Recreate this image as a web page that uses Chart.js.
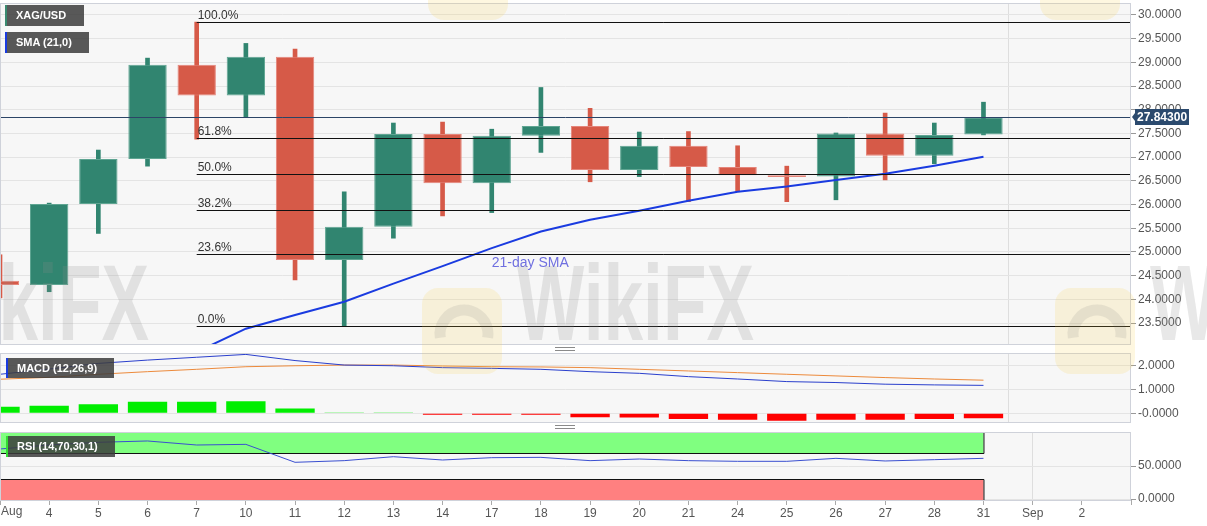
<!DOCTYPE html>
<html>
<head>
<meta charset="utf-8">
<title>XAG/USD</title>
<script src="https://cdn.jsdelivr.net/npm/chart.js@4.4.1/dist/chart.umd.min.js"></script>
<style>
  body { margin: 0; background: #fff; font-family: "Liberation Sans", Arial, sans-serif; }
  #wrap { position: relative; width: 1207px; height: 526px; overflow: hidden; }
  .pane { position: absolute; left: 0; width: 1207px; }
  .tag { position: absolute; height: 21px; line-height: 21px; padding-left: 9px; box-sizing: border-box;
         color: #fff; font-weight: bold; font-size: 11px; background: rgba(60,60,60,0.85);
         border-left: 2px solid #3a8a70; white-space: nowrap; }
  .grip { position: absolute; left: 555px; width: 20px; height: 2px; border-top: 1px solid #8a8a8a; border-bottom: 1px solid #8a8a8a; }
  #marks { position: absolute; left: 0; top: 0; pointer-events: none; }
</style>
</head>
<body>
<div id="wrap">
  <div class="pane" style="top:0;height:345px"><canvas id="mainChart"></canvas></div>
  <div class="pane" style="top:350px;height:75px"><canvas id="macdChart"></canvas></div>
  <div class="pane" style="top:428px;height:98px"><canvas id="rsiChart"></canvas></div>
  <canvas id="marks" width="1207" height="526"></canvas>
  <div class="grip" style="top:347px"></div>
  <div class="grip" style="top:425px"></div>
  <div class="tag" style="left:5px;top:5px;width:79px">XAG/USD</div>
  <div class="tag" style="left:5px;top:32px;width:84px;border-left-color:#1a3be0">SMA (21,0)</div>
  <div class="tag" style="left:6px;top:358px;width:108px;height:20px;line-height:20px;border-left-color:#1a3be0">MACD (12,26,9)</div>
  <div class="tag" style="left:6px;top:436px;width:109px;border-left-color:#33dd33">RSI (14,70,30,1)</div>
</div>
<script>
// days on the axis (Aug 3 .. Sep 3), candles only up to Aug 31
const dayLabels = ["Aug", "4", "5", "6", "7", "10", "11", "12", "13", "14", "17", "18", "19", "20", "21", "24", "25", "26", "27", "28", "31", "Sep", "2", ""];

const opens  = [24.39, 24.30, 26.01, 26.96, 28.95, 28.30, 29.12, 24.83, 25.53, 27.49, 26.45, 27.45, 27.66, 26.73, 27.24, 26.79, 26.62, 26.59, 27.50, 27.03, 27.48];
const closes = [24.30, 26.01, 26.96, 28.95, 28.30, 29.12, 24.83, 25.53, 27.49, 26.45, 27.45, 27.66, 26.73, 27.24, 26.79, 26.62, 26.58, 27.50, 27.03, 27.47, 27.843];
const highs  = [24.94, 26.03, 27.15, 29.09, 29.85, 29.40, 29.28, 26.27, 27.72, 27.74, 27.59, 28.47, 28.03, 27.53, 27.54, 27.24, 26.81, 27.51, 27.93, 27.72, 28.16];
const lows   = [24.03, 24.16, 25.39, 26.81, 27.38, 27.84, 24.41, 23.44, 25.29, 25.76, 25.83, 27.10, 26.48, 26.59, 26.06, 26.27, 26.06, 26.10, 26.52, 26.86, 27.47];
const sma21  = [null, null, null, null, 22.89, 23.38, 23.67, 23.95, 24.33, 24.70, 25.08, 25.43, 25.68, 25.87, 26.08, 26.27, 26.38, 26.52, 26.65, 26.82, 27.01];

const macdLine   = [1.65, 1.87, 2.11, 2.25, 2.37, 2.49, 2.23, 2.04, 2.01, 1.93, 1.90, 1.86, 1.76, 1.69, 1.55, 1.45, 1.34, 1.30, 1.23, 1.20, 1.18];
const signalLine = [1.44, 1.52, 1.65, 1.76, 1.86, 1.97, 2.01, 2.04, 2.04, 2.00, 1.97, 1.96, 1.93, 1.86, 1.79, 1.72, 1.65, 1.58, 1.51, 1.45, 1.40];
const macdHist   = [0.28, 0.32, 0.38, 0.49, 0.49, 0.51, 0.20, 0.01, 0.01, -0.06, -0.06, -0.06, -0.17, -0.18, -0.24, -0.28, -0.32, -0.28, -0.28, -0.24, -0.21];

const rsiValues = [75.8, 81.8, 85.9, 87.9, 81.8, 82.8, 55.6, 58.1, 64.1, 59.1, 62.6, 63.1, 58.1, 60.6, 58.1, 57.1, 57.1, 61.6, 57.6, 59.6, 61.6];

const priceTicks = [23.5, 24, 24.5, 25, 25.5, 26, 26.5, 27, 27.5, 28, 28.5, 29, 29.5, 30];
const macdTicks = [0, 1, 2];
const macdTickLabels = ["-0.0000", "1.0000", "2.0000"];
const rsiTicks = [0, 50];
const rsiTickLabels = ["0.0000", "50.0000"];

const fibLevels = [29.86, 27.41, 26.65, 25.89, 24.96, 23.44];
const fibLabels = ["100.0%", "61.8%", "50.0%", "38.2%", "23.6%", "0.0%"];
const fibStart = 4;   // drawn from Aug 7
const lastPrice = 27.843;
const rsiBandLevels = [0, 30, 70, 100];
const lastCandle = 20;

const GREEN = '#318570', RED = '#d65a48';
const FONT = "'Liberation Sans', Arial, sans-serif";
Chart.defaults.font.family = FONT;
Chart.defaults.font.size = 12;
Chart.defaults.animation = false;

const upDown = opens.map((o, i) => closes[i] >= o);

function xAxis(showLabels) {
    return {
        type: 'category',
        offset: false,
        grid: {
            color: c => c.index === 21 ? '#dedede' : 'rgba(0,0,0,0)',
            tickColor: showLabels ? '#aaa' : 'rgba(0,0,0,0)',
            tickLength: 5,
            drawTicks: showLabels
        },
        border: { display: false },
        ticks: {
            display: showLabels, autoSkip: false, maxRotation: 0, padding: 1, color: '#555',
            callback: (v, i) => i === 0 ? '' : dayLabels[i]
        },
        afterFit: s => { s.paddingLeft = 0; s.paddingRight = 0; s.height = showLabels ? 22 : 0; }
    };
}

function yAxis(min, max, ticks, labels) {
    return {
        position: 'right', min: min, max: max,
        afterBuildTicks: s => { s.ticks = ticks.map(v => ({ value: v })); },
        afterFit: s => { s.width = 76; s.paddingTop = 0; s.paddingBottom = 0; },
        grid: { color: '#e4e4e4', tickColor: '#999', tickLength: 5 },
        border: { display: false },
        ticks: {
            color: '#555', padding: 2,
            callback: (v, i) => labels ? labels[i] : v.toFixed(4)
        }
    };
}

const panel = {
    id: 'panel',
    beforeDraw(chart) {
        const { ctx, chartArea: a } = chart;
        ctx.save();
        ctx.fillStyle = '#f7f7f7';
        ctx.fillRect(a.left, a.top, a.right - a.left, a.bottom - a.top);
        ctx.restore();
    },
    afterDraw(chart) {
        const { ctx, chartArea: a } = chart;
        ctx.save();
        ctx.strokeStyle = '#cfd2da';
        ctx.lineWidth = 1;
        ctx.strokeRect(a.left + 0.5, a.top + 0.5, a.right - a.left - 1, a.bottom - a.top);
        ctx.restore();
    }
};

// fibonacci levels, last price line and tag, SMA caption
const mainExtras = {
    id: 'mainExtras',
    afterDatasetsDraw(chart) {
        const { ctx, chartArea: a, scales: { x, y } } = chart;
        ctx.save();
        const x0 = x.getPixelForValue(fibStart);
        ctx.lineWidth = 1;
        ctx.strokeStyle = '#111';
        ctx.fillStyle = '#333';
        ctx.font = '12px ' + FONT;
        ctx.textBaseline = 'bottom';
        fibLevels.forEach((lv, i) => {
            const py = Math.round(y.getPixelForValue(lv)) + 0.5;
            ctx.beginPath();
            ctx.moveTo(x0, py);
            ctx.lineTo(a.right, py);
            ctx.stroke();
            ctx.fillText(fibLabels[i], x0 + 1, py - 1);
        });
        const pp = Math.round(y.getPixelForValue(lastPrice)) + 0.5;
        ctx.strokeStyle = '#2b4466';
        ctx.beginPath();
        ctx.moveTo(a.left, pp);
        ctx.lineTo(a.right, pp);
        ctx.stroke();
        ctx.fillStyle = '#6f6fe0';
        ctx.font = '14px ' + FONT;
        ctx.textBaseline = 'alphabetic';
        ctx.fillText('21-day SMA', x.getPixelForValue(10), y.getPixelForValue(24.68));
        ctx.restore();
    },
    afterDraw(chart) {
        const { ctx, chartArea: a, scales: { y } } = chart;
        const py = Math.round(y.getPixelForValue(lastPrice));
        ctx.save();
        ctx.fillStyle = '#2b4a6e';
        ctx.beginPath();
        ctx.moveTo(a.right + 1, py);
        ctx.lineTo(a.right + 4, py - 4);
        ctx.lineTo(a.right + 4, py - 8);
        ctx.lineTo(a.right + 58, py - 8);
        ctx.lineTo(a.right + 58, py + 8);
        ctx.lineTo(a.right + 4, py + 8);
        ctx.lineTo(a.right + 4, py + 4);
        ctx.closePath();
        ctx.fill();
        ctx.fillStyle = '#fff';
        ctx.font = 'bold 12px ' + FONT;
        ctx.textBaseline = 'middle';
        ctx.fillText(lastPrice.toFixed(5), a.right + 6, py + 1);
        ctx.restore();
    }
};

const rsiBands = {
    id: 'rsiBands',
    beforeDatasetsDraw(chart) {
        const { ctx, chartArea: a, scales: { x, y } } = chart;
        const xr = x.getPixelForValue(lastCandle);
        const p = rsiBandLevels.map(v => Math.round(y.getPixelForValue(v)));
        ctx.save();
        ctx.fillStyle = '#80ff80';
        ctx.fillRect(a.left, p[3], xr - a.left, p[2] - p[3]);
        ctx.fillStyle = '#ff8080';
        ctx.fillRect(a.left, p[1], xr - a.left, a.bottom - p[1]);
        ctx.strokeStyle = '#111';
        ctx.lineWidth = 1;
        ctx.beginPath();
        ctx.moveTo(a.left, p[2] + 0.5); ctx.lineTo(xr + 0.5, p[2] + 0.5); ctx.lineTo(xr + 0.5, p[3]);
        ctx.moveTo(a.left, p[1] + 0.5); ctx.lineTo(xr + 0.5, p[1] + 0.5); ctx.lineTo(xr + 0.5, a.bottom);
        ctx.stroke();
        ctx.restore();
    }
};

function baseOptions(x, y, pad) {
    return {
        responsive: true,
        maintainAspectRatio: false,
        layout: { padding: pad },
        plugins: { legend: { display: false }, tooltip: { enabled: false } },
        scales: { x: x, y: y }
    };
}

new Chart(document.getElementById('mainChart'), {
    type: 'bar',
    data: {
        labels: dayLabels,
        datasets: [
            {
                type: 'line', data: sma21, borderColor: '#1a3be0', borderWidth: 2,
                pointRadius: 0, spanGaps: false, order: 1
            },
            {
                data: opens.map((o, i) => [o, closes[i]]),
                backgroundColor: upDown.map(u => u ? GREEN : RED),
                borderColor: upDown.map(u => u ? '#5fa592' : '#e5857a'),
                borderWidth: 1, borderSkipped: false,
                barPercentage: 0.78, categoryPercentage: 1, grouped: false, order: 2
            },
            {
                data: lows.map((l, i) => [l, highs[i]]),
                backgroundColor: upDown.map(u => u ? GREEN : RED),
                barThickness: 4, grouped: false, order: 3
            }
        ]
    },
    options: baseOptions(xAxis(false), yAxis(23.057, 30.253, priceTicks, null), { top: 3, bottom: 1, left: 0, right: 0 }),
    plugins: [panel, mainExtras]
});

new Chart(document.getElementById('macdChart'), {
    type: 'bar',
    data: {
        labels: dayLabels,
        datasets: [
            { type: 'line', data: macdLine, borderColor: '#2a3fcc', borderWidth: 1, pointRadius: 0, order: 1 },
            { type: 'line', data: signalLine, borderColor: '#ec8a3c', borderWidth: 1, pointRadius: 0, order: 2 },
            {
                data: macdHist,
                backgroundColor: macdHist.map(v => v >= 0 ? '#00ee00' : '#ff0000'),
                barPercentage: 0.8, categoryPercentage: 1, order: 3
            }
        ]
    },
    options: baseOptions(xAxis(false), yAxis(-0.37, 2.55, macdTicks, macdTickLabels), { top: 3, bottom: 3, left: 0, right: 0 }),
    plugins: [panel]
});

new Chart(document.getElementById('rsiChart'), {
    type: 'line',
    data: {
        labels: dayLabels,
        datasets: [
            { data: rsiValues, borderColor: '#3a4fd0', borderWidth: 1, pointRadius: 0 }
        ]
    },
    options: baseOptions(xAxis(true), yAxis(-1.5, 101.5, rsiTicks, rsiTickLabels), { top: 4, bottom: 4, left: 0, right: 0 }),
    plugins: [panel, rsiBands, {
        id: 'firstLabel',
        afterDraw(chart) {
            const { ctx, chartArea: a } = chart;
            ctx.save();
            ctx.fillStyle = '#555';
            ctx.font = '12px ' + FONT;
            ctx.textBaseline = 'top';
            ctx.fillText(dayLabels[0], a.left + 1, a.bottom + 6);
            ctx.restore();
        }
    }]
});

// faint WikiFX watermark over the whole picture
(function () {
    const ctx = document.getElementById('marks').getContext('2d');
    function mark(lx, base) {
        ctx.save();
        ctx.fillStyle = 'rgba(250,205,70,0.17)';
        ctx.beginPath();
        ctx.roundRect(lx, base - 52, 80, 86, 16);
        ctx.fill();
        ctx.strokeStyle = 'rgba(110,110,110,0.13)';
        ctx.lineWidth = 11;
        ctx.beginPath();
        ctx.arc(lx + 42, base - 6, 24, Math.PI * 0.95, Math.PI * 2.05);
        ctx.stroke();
        ctx.translate(lx + 95, base);
        ctx.scale(0.66, 1);
        ctx.fillStyle = 'rgba(140,140,140,0.2)';
        ctx.font = 'bold 108px ' + FONT;
        ctx.fillText('WikiFX', 0, 0);
        ctx.restore();
    }
    [-183, 422, 1055].forEach(lx => mark(lx, 340));
    [428, 1040].forEach(lx => mark(lx, -14));
})();
</script>
</body>
</html>
